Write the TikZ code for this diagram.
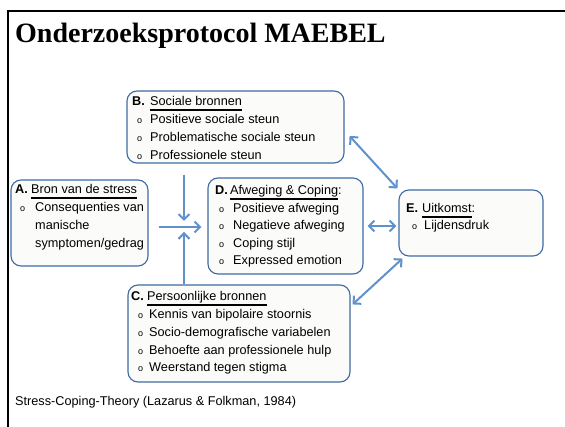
\documentclass[tikz,border=0pt]{standalone}
\usepackage{fontspec}
\setmainfont{Liberation Sans}
\newfontfamily\titlefont{Liberation Serif}
\usetikzlibrary{arrows.meta,calc}
\definecolor{boxblue}{RGB}{62,106,166}
\definecolor{arrblue}{RGB}{95,145,205}
\definecolor{boxfill}{RGB}{251,251,249}
\newcommand\myul[1]{\setbox0\hbox{#1}\rlap{\rule[-5pt]{\wd0}{1.8pt}}\box0}
\newcommand\bul{{\fontsize{9}{9}\selectfont o}}
\newcommand\hd[3]{\hbox{\makebox[#1][l]{\bfseries #2}#3}}
\newcommand\itm[3]{\hbox{\hspace{#1}\makebox[#2][l]{\bul}#3}}
\newcommand\cont[2]{\hbox{\hspace{#1}#2}}
\newcommand\blines[2]{\vtop{\baselineskip=#1\lineskiplimit=-20pt\lineskip=0pt\relax #2}}
\begin{document}
\begin{tikzpicture}[x=1pt,y=-1pt,
  boxst/.style={draw=boxblue,fill=boxfill,line width=1.1pt,rounded corners=10pt,inner sep=0pt},
  txt/.style={anchor=base west,inner sep=0pt,font=\fontsize{12.7}{15}\selectfont},
  arr/.style={draw=arrblue,line width=2pt,-{Straight Barb[length=5.5pt,width=11pt]}},
  darr/.style={draw=arrblue,line width=2pt,{Straight Barb[length=5.5pt,width=11pt]}-{Straight Barb[length=5.5pt,width=11pt]}}]
\useasboundingbox (0,0) rectangle (565,427);
\fill[white] (0,0) rectangle (565,427);
\draw[line width=2pt] (8,427) -- (8,11) -- (565,11);
\node[anchor=base west,inner sep=0pt,font=\titlefont\bfseries\fontsize{28}{30}\selectfont] (title) at (15,43) {Onderzoeksprotocol MAEBEL};
% boxes
\node[boxst,minimum width=217,minimum height=72] (B) at (235.5,127) {};
\node[boxst,minimum width=137,minimum height=86] (A) at (79.5,223) {};
\node[boxst,minimum width=155,minimum height=96] (D) at (285.5,226) {};
\node[boxst,minimum width=144,minimum height=66] (E) at (471,223) {};
\node[boxst,minimum width=222,minimum height=97] (C) at (239,333.5) {};
% texts
\node[txt] (Bt) at (132,106) {\blines{17.7pt}{%
  \hd{18pt}{B.}{\myul{Sociale bronnen}}
  \itm{5pt}{13pt}{Positieve sociale steun}
  \itm{5pt}{13pt}{Problematische sociale steun}
  \itm{5pt}{13pt}{Professionele steun}}};
\node[txt] (At) at (15,194) {\blines{18pt}{%
  \hd{16pt}{A.}{\myul{Bron van de stress}}
  \itm{5pt}{15pt}{Consequenties van}
  \cont{20pt}{manische}
  \cont{20pt}{symptomen/gedrag}}};
\node[txt] (Dt) at (215,195) {\blines{17.5pt}{%
  \hd{15pt}{D.}{\myul{Afweging \& Coping}:}
  \itm{4pt}{14pt}{Positieve afweging}
  \itm{4pt}{14pt}{Negatieve afweging}
  \itm{4pt}{14pt}{Coping stijl}
  \itm{4pt}{14pt}{Expressed emotion}}};
\node[txt] (Et) at (406,213) {\blines{17pt}{%
  \hd{16pt}{E.}{\myul{Uitkomst}:}
  \itm{6pt}{12pt}{Lijdensdruk}}};
\node[txt] (Ct) at (131,301) {\blines{17.75pt}{%
  \hd{16pt}{C.}{\myul{Persoonlijke bronnen}}
  \itm{7pt}{11pt}{Kennis van bipolaire stoornis}
  \itm{7pt}{11pt}{Socio-demografische variabelen}
  \itm{7pt}{11pt}{Behoefte aan professionele hulp}
  \itm{7pt}{11pt}{Weerstand tegen stigma}}};
\node[txt] (foot) at (15,406) {Stress-Coping-Theory (Lazarus \& Folkman, 1984)};
% connectors
\coordinate (J) at (184,227);
\draw[arr] ($(J |- B.south)+(0,11)$) -- ($(J)+(0,-6)$);
\draw[arr] ($(A.east |- J)+(10,0)$) -- ($(D.west |- J)+(-6,0)$);
\draw[arr] (J |- C.north) -- ($(J)+(0,5)$);
\draw[darr] ($(B.east)+(5,9)$) -- ($(E.north west)+(-1,-1)$);
\draw[darr] ($(D.east)+(4,0)$) -- ($(D.east -| E.west)+(-2,0)$);
\draw[darr] ($(C.north east)+(2,20)$) -- ($(E.south west)+(4,2)$);
\end{tikzpicture}
\end{document}
